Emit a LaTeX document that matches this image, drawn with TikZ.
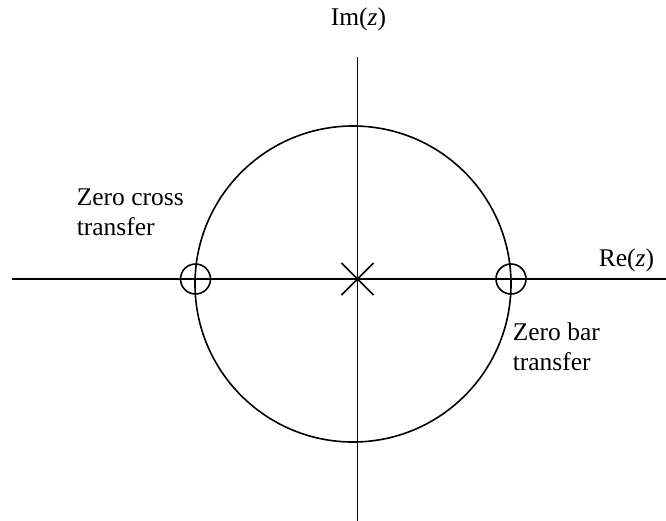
\documentclass[tikz,border=0pt]{standalone}
\usepackage{fontspec}
\setmainfont{Liberation Serif}
\begin{document}
\begin{tikzpicture}[x=1pt,y=-1pt,line width=1.6pt,
  lbl/.style={inner sep=0pt,font=\fontsize{25.5}{30}\selectfont},
  zeromark/.style={draw,circle,inner sep=0pt,minimum size=30pt,line width=1.6pt},
  unitcirc/.style={draw,circle,inner sep=0pt,minimum size=316pt,line width=1.6pt}]
\useasboundingbox (0,0) rectangle (666,520);
% axes
\coordinate (ytop) at (357.5,57);
\coordinate (ybot) at (357.5,522);
\coordinate (xleft) at (12,279);
\coordinate (xright) at (668,279);
\draw (ytop) -- (ybot);
\draw (xleft) -- (xright);
% unit circle
\node[unitcirc] (uc) at (353,284) {};
% pole at origin
\coordinate (pole) at (357.5,279);
\draw (pole) +(-16,-16) -- +(16,16);
\draw (pole) +(-16,16) -- +(16,-16);
% zeros
\node[zeromark] (zl) at (195.5,279) {};
\node[zeromark] (zr) at (511,279) {};
% labels
\node[lbl,anchor=base] (im) at (358.5,25) {Im(\textit{z})};
\node[lbl,anchor=base west] (re) at (598,266) {Re(\textit{z})};
\node[lbl,anchor=base west] (zc) at (76,205) {\begin{tabular}[t]{@{}l@{}}Zero cross\\transfer\end{tabular}};
\node[lbl,anchor=base west] (zb) at (512,340) {\begin{tabular}[t]{@{}l@{}}Zero bar\\transfer\end{tabular}};
\end{tikzpicture}
\end{document}
